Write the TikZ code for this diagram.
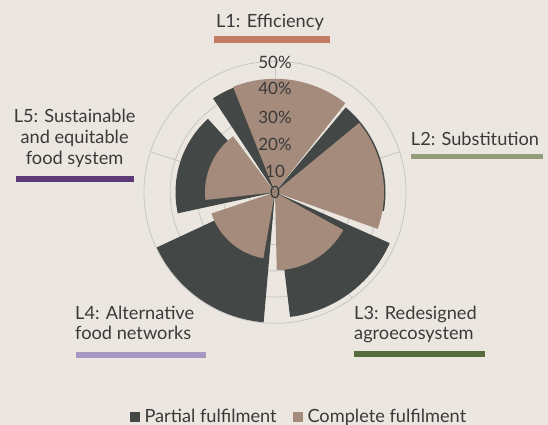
\documentclass[tikz,border=0pt]{standalone}
\usepackage{fontspec}
\setmainfont{Lato}
\definecolor{bgbeige}{HTML}{EBE7E0}
\definecolor{partial}{HTML}{434846}
\definecolor{complete}{HTML}{A58B7B}
\definecolor{gridgray}{HTML}{C8C6C2}
\definecolor{txtgray}{HTML}{3A3A3A}
\definecolor{lonecol}{HTML}{C27C62}
\definecolor{ltwocol}{HTML}{939C78}
\definecolor{lthreecol}{HTML}{566B3E}
\definecolor{lfourcol}{HTML}{A597C1}
\definecolor{lfivecol}{HTML}{5E3A78}
\begin{document}
\begin{tikzpicture}[x=1pt,y=1pt,
  lab/.style={text=txtgray,font=\fontsize{18.2}{20}\selectfont,inner sep=0pt},
  ticklab/.style={text=txtgray,font=\fontsize{17}{17}\selectfont,inner sep=0pt},
  ring/.style={draw=gridgray,line width=0.8pt}]
\fill[bgbeige] (0,0) rectangle (548,425);
\useasboundingbox (0,0) rectangle (548,425);
\coordinate (c) at (275,232.7);
% grid
\draw[ring] (c) circle (26.2);
\draw[ring] (c) circle (52.4);
\draw[ring] (c) circle (78.6);
\draw[ring] (c) circle (104.8);
\draw[ring] (c) circle (131);
\draw[ring] (c) -- ++(90:131);
\draw[ring] (c) -- ++(18:131);
\draw[ring] (c) -- ++(-54:131);
\draw[ring] (c) -- ++(-126:131);
\draw[ring] (c) -- ++(162:131);
% L1
\fill[partial] (c) -- ++(63.4:112.5) arc (63.4:123.4:112.5) -- cycle;
\fill[complete] (c) -- ++(51.7:113.5) arc (51.7:111.7:113.5) -- cycle;
% L2
\fill[partial] (c) -- ++(-9.8:110.5) arc (-9.8:50.2:110.5) -- cycle;
\fill[complete] (c) -- ++(-19.6:109) arc (-19.6:39.5:109) -- cycle;
% L3
\fill[partial] (c) -- ++(-83.1:125.5) arc (-83.1:-23.9:125.5) -- cycle;
\fill[complete] (c) -- ++(-88.7:78) arc (-88.7:-28.9:78) -- cycle;
% L4
\fill[partial] (c) -- ++(-155:130.5) arc (-155:-95:130.5) -- cycle;
\fill[complete] (c) -- ++(-161.6:67) arc (-161.6:-100:67) -- cycle;
% L5
\fill[partial] (c) -- ++(132.4:99.5) arc (132.4:192.2:99.5) -- cycle;
\fill[complete] (c) -- ++(126.8:70) arc (126.8:186.3:70) -- cycle;
% scale
\node[ticklab,anchor=base] (pfifty) at (275,356) {50\%};
\node[ticklab,anchor=base] (pforty) at (275,330) {40\%};
\node[ticklab,anchor=base] (pthirty) at (275,301.7) {30\%};
\node[ticklab,anchor=base] (ptwenty) at (275,274) {20\%};
\node[ticklab,anchor=base] (pten) at (275,247.7) {10};
\node[ticklab,anchor=base] (pzero) at (275,226.7) {0};
% level labels
\node[lab,anchor=base] (lone) at (270,397.7) {L1: Efficiency};
\fill[lonecol] (213.9,382.4) rectangle (329.9,389);
\node[lab,anchor=base west] (ltwo) at (410.7,279.6) {L2: Substitution};
\fill[ltwocol] (411.4,266) rectangle (542.8,271.2);
\node[lab,anchor=base west] (lthreea) at (354,105.7) {L3: Redesigned};
\node[lab,anchor=base west] (lthreeb) at (354,85.7) {agroecosystem};
\fill[lthreecol] (354,68.3) rectangle (485,74);
\node[lab,anchor=base west] (lfoura) at (75,105.7) {L4: Alternative};
\node[lab,anchor=base west] (lfourb) at (75,85.7) {food networks};
\fill[lfourcol] (76,67.3) rectangle (206,73);
\node[lab,anchor=base] (lfivea) at (74.6,302) {L5: Sustainable};
\node[lab,anchor=base] (lfiveb) at (74.6,281.3) {and equitable};
\node[lab,anchor=base] (lfivec) at (74.6,260.6) {food system};
\fill[lfivecol] (16,242.6) rectangle (133.9,248.5);
% legend
\fill[partial] (130,2.7) rectangle (140,13.3);
\node[lab,anchor=base west] (lgpartial) at (144.3,2.7) {Partial fulfilment};
\fill[complete] (293.3,2.7) rectangle (303.3,13.3);
\node[lab,anchor=base west] (lgcomplete) at (307.3,2.7) {Complete fulfilment};
\end{tikzpicture}
\end{document}
